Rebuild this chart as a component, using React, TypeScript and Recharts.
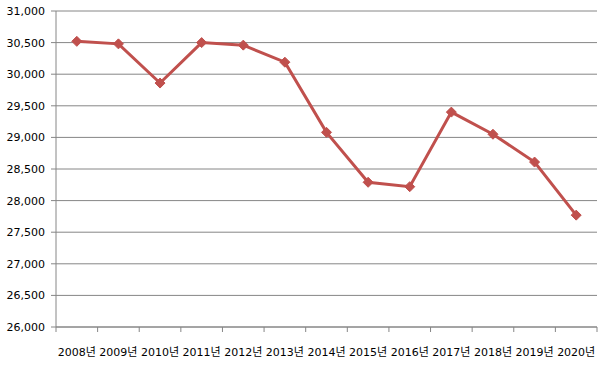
import React from 'react';
import { LineChart, Line, XAxis, YAxis, CartesianGrid } from 'recharts';

const categories = ['2008년', '2009년', '2010년', '2011년', '2012년', '2013년', '2014년', '2015년', '2016년', '2017년', '2018년', '2019년', '2020년'];
const values = [30520, 30480, 29860, 30500, 30460, 30190, 29080, 28290, 28220, 29400, 29050, 28610, 27770];
const yTicks = [26000, 26500, 27000, 27500, 28000, 28500, 29000, 29500, 30000, 30500, 31000];

const data = categories.map((c, i) => ({ name: c, value: values[i] }));

const FONT = '"DejaVu Sans", "Noto Sans CJK KR", sans-serif';
const AXIS = '#868686';
const W = 600;
const H = 367;
const M = { top: 11, right: 3, left: 0, bottom: 0 };
const Y_W = 56;
const BAND = (W - M.left - M.right - Y_W) / categories.length;

const CatTick = (p: any) => {
  const { x, y, payload, index } = p;
  const left = x - BAND / 2;
  const right = x + BAND / 2;
  return (
    <g>
      <line x1={left} y1={y} x2={left} y2={y + 5} stroke={AXIS} />
      {index === categories.length - 1 && <line x1={right} y1={y} x2={right} y2={y + 5} stroke={AXIS} />}
      <text x={x} y={y + 21} dy="0.71em" textAnchor="middle" fill="#000" fontSize={11} fontFamily={FONT}>
        {payload.value}
      </text>
    </g>
  );
};

export default function App() {
  return (
    <div style={{ position: 'absolute', left: 0, top: 0, width: W, height: H, background: '#fff' }}>
      <LineChart width={W} height={H} data={data} margin={M}>
        <CartesianGrid vertical={false} stroke={AXIS} strokeWidth={1} />
        <XAxis
          dataKey="name"
          scale="band"
          height={40}
          axisLine={{ stroke: AXIS }}
          tickLine={false}
          tickSize={0}
          tickMargin={0}
          interval={0}
          tick={<CatTick />}
        />
        <YAxis
          width={Y_W}
          domain={[26000, 31000]}
          ticks={yTicks}
          interval={0}
          tickFormatter={(v: number) => v.toLocaleString('en-US')}
          axisLine={{ stroke: AXIS }}
          tickLine={{ stroke: AXIS }}
          tickSize={5}
          tickMargin={6}
          tick={{ fill: '#000', fontSize: 11, fontFamily: FONT }}
        />
        <Line
          dataKey="value"
          stroke="#C0504D"
          strokeWidth={3}
          dot={(p: any) => (
            <path
              key={p.index}
              d={`M${p.cx},${p.cy - 5} L${p.cx + 5},${p.cy} L${p.cx},${p.cy + 5} L${p.cx - 5},${p.cy} Z`}
              fill="#C0504D"
              stroke="#C0504D"
            />
          )}
          activeDot={false}
          isAnimationActive={false}
        />
      </LineChart>
    </div>
  );
}
